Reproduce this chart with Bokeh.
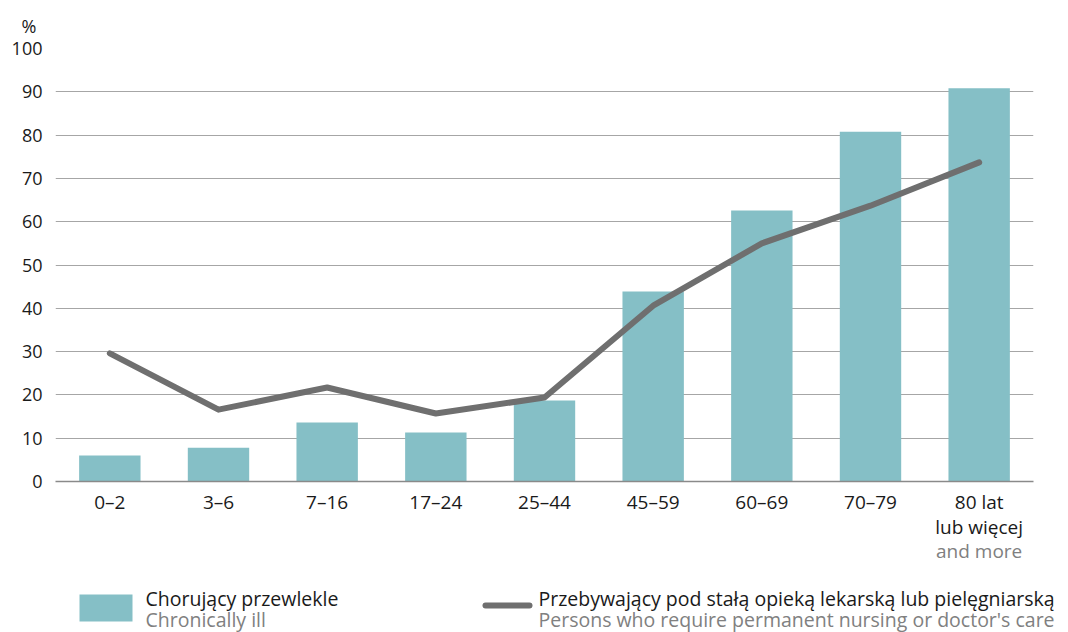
from bokeh.plotting import figure
from bokeh.models import Range1d, FixedTicker, LinearAxis, ColumnDataSource
from bokeh.layouts import column
from bokeh.core.properties import value
from bokeh.embed import file_html
from bokeh.resources import INLINE

# ---- data ----
categories = ["0–2", "3–6", "7–16", "17–24", "25–44", "45–59", "60–69", "70–79", "80 lat\nlub więcej"]
last_category_en = "and more"
chronically_ill = [6.0, 7.8, 13.6, 11.3, 18.7, 43.9, 62.6, 80.8, 90.8]
permanent_care = [29.6, 16.6, 21.7, 15.7, 19.4, 40.6, 55.0, 63.7, 73.7]
y_ticks = [0, 10, 20, 30, 40, 50, 60, 70, 80, 90, 100]
y_unit = "%"
series1_pl = "Chorujący przewlekle"
series1_en = "Chronically ill"
series2_pl = "Przebywający pod stałą opieką lekarską lub pielęgniarską"
series2_en = "Persons who require permanent nursing or doctor's care"

FONT = "Open Sans"
BAR = "#85bfc6"
LINE = "#6f6f6f"
TXT = "#1a1a1a"
TXT2 = "#808080"

xs = [i + 0.5 for i in range(len(categories))]
src = ColumnDataSource(dict(x=xs, bars=chronically_ill, line=permanent_care))

p = figure(width=1068, height=581, output_backend="svg", toolbar_location=None,
           x_range=Range1d(0, len(categories)), y_range=Range1d(0, 100),
           min_border_left=55, min_border_right=35, min_border_top=48, min_border_bottom=100)
p.outline_line_color = None
p.background_fill_color = "white"

# "%" unit shown as a left-aligned title above the y axis
p.title.text = y_unit
p.title.align = "left"
p.title.offset = -34
p.title.standoff = 22
p.title.text_font = FONT
p.title.text_font_size = "18px"
p.title.text_font_style = "normal"
p.title.text_color = TXT

p.vbar(x="x", top="bars", width=0.565, source=src, fill_color=BAR, line_color=None)
p.line(x="x", y="line", source=src, line_color=LINE, line_width=6, line_join="round", line_cap="round")

# axes
p.xaxis.ticker = FixedTicker(ticks=xs)
p.xaxis.major_label_overrides = {x: c for x, c in zip(xs, categories)}
p.xaxis.axis_line_color = "#8a8a8a"
p.xaxis.axis_line_width = 1.5
p.xaxis.major_tick_line_color = None
p.xaxis.minor_tick_line_color = None
p.xaxis.major_label_standoff = 1
p.xaxis.major_label_text_font = FONT
p.xaxis.major_label_text_font_size = "19px"
p.xaxis.major_label_text_line_height = 0.97
p.xaxis.major_label_text_color = TXT

# second row of the last category label (English, grey)
en_axis = LinearAxis(ticker=FixedTicker(ticks=[xs[-1]]),
                     major_label_overrides={xs[-1]: last_category_en})
en_axis.axis_line_color = None
en_axis.major_tick_line_color = None
en_axis.minor_tick_line_color = None
en_axis.major_label_standoff = -11
en_axis.major_label_text_font = FONT
en_axis.major_label_text_font_size = "19px"
en_axis.major_label_text_color = TXT2
p.add_layout(en_axis, "below")

p.yaxis.ticker = FixedTicker(ticks=y_ticks)
p.yaxis.axis_line_color = None
p.yaxis.major_tick_line_color = None
p.yaxis.minor_tick_line_color = None
p.yaxis.major_label_standoff = 7
p.yaxis.major_label_text_font = FONT
p.yaxis.major_label_text_font_size = "18px"
p.yaxis.major_label_text_color = TXT

p.xgrid.grid_line_color = None
p.ygrid.grid_line_color = "#a6a6a6"
p.ygrid.grid_line_width = 1

# ---- legend strip ----
lg = figure(width=1068, height=51, output_backend="svg", toolbar_location=None,
            x_range=Range1d(0, 1068), y_range=Range1d(51, 0),
            min_border_left=0, min_border_right=0, min_border_top=0, min_border_bottom=0)
lg.frame_align = False
lg.outline_line_color = None
lg.axis.visible = False
lg.grid.visible = False
lg.rect(x=[105.5], y=[26.5], width=[53], height=[27], fill_color=BAR, line_color=None)
lg.line(x=[485, 529], y=[24, 24], line_color=LINE, line_width=6, line_cap="round")
lg.text(x=[145, 145], y=[17, 38], text=[series1_pl, series1_en],
        text_color=[TXT, TXT2], text_font=value(FONT), text_font_size="19.5px",
        text_baseline="middle")
lg.text(x=[538, 538], y=[17, 38], text=[series2_pl, series2_en],
        text_color=[TXT, TXT2], text_font=value(FONT), text_font_size="19.5px",
        text_baseline="middle")

layout = column(p, lg, spacing=0)
open("out.html", "w").write(file_html(layout, INLINE))
